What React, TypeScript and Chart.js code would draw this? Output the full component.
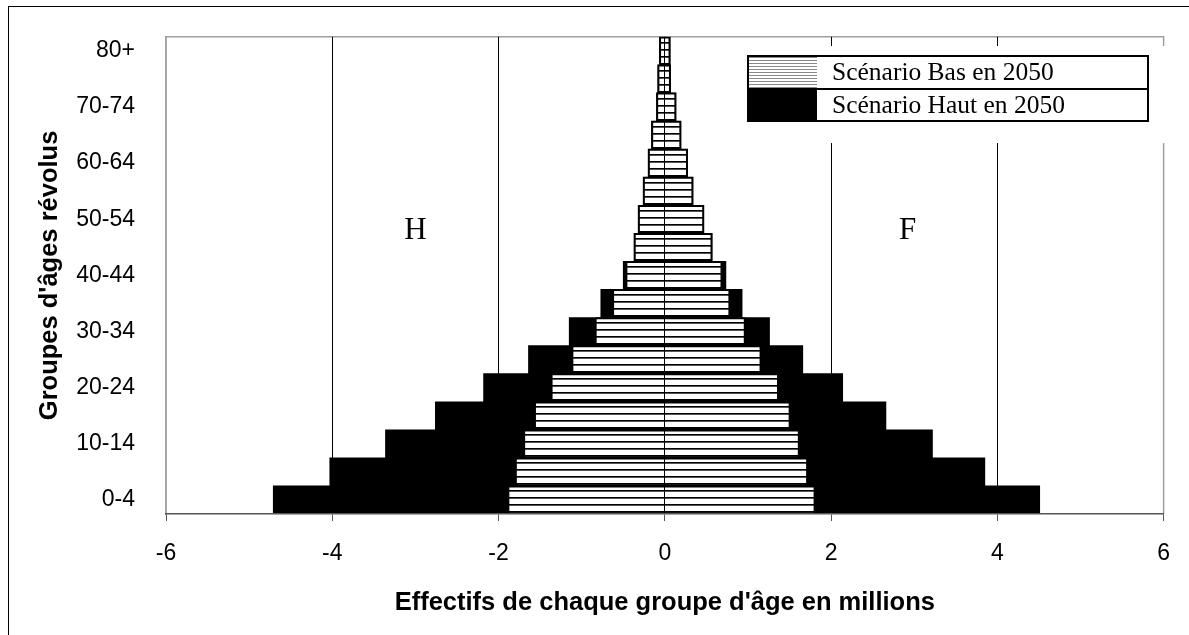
import React, { useEffect, useRef } from "react";
import { Chart, registerables } from "chart.js";

Chart.register(...registerables);

const ageGroups = [
  "0-4", "5-9", "10-14", "15-19", "20-24", "25-29", "30-34", "35-39", "40-44",
  "45-49", "50-54", "55-59", "60-64", "65-69", "70-74", "75-79", "80+",
];
// millions, hommes (negative) et femmes (positive)
const basHommes = [-1.89, -1.8, -1.7, -1.57, -1.37, -1.12, -0.84, -0.63, -0.47, -0.37, -0.32, -0.26, -0.2, -0.16, -0.1, -0.085, -0.065];
const basFemmes = [1.81, 1.72, 1.62, 1.51, 1.37, 1.16, 0.97, 0.785, 0.69, 0.57, 0.47, 0.34, 0.275, 0.195, 0.135, 0.07, 0.065];
const hautHommes = [-4.71, -4.03, -3.36, -2.76, -2.18, -1.64, -1.15, -0.77, -0.5, -0.37, -0.32, -0.26, -0.2, -0.16, -0.1, -0.085, -0.065];
const hautFemmes = [4.51, 3.85, 3.22, 2.66, 2.14, 1.66, 1.26, 0.93, 0.735, 0.57, 0.47, 0.34, 0.275, 0.195, 0.135, 0.07, 0.065];
const seriesLabels = ["Scénario Bas en 2050", "Scénario Haut en 2050"];
const xTicks = [-6, -4, -2, 0, 2, 4, 6];
const sexLabels = ["H", "F"];

function makePattern(w: number, h: number, draw: (c: CanvasRenderingContext2D) => void) {
  const pc = document.createElement("canvas");
  pc.width = w;
  pc.height = h;
  const c = pc.getContext("2d")!;
  draw(c);
  return pc;
}

export default function App() {
  const ref = useRef<HTMLCanvasElement | null>(null);

  useEffect(() => {
    const canvas = ref.current!;
    const ctx = canvas.getContext("2d")!;
    const barPatCanvas = makePattern(8, 7, (c) => {
      c.fillStyle = "#fff";
      c.fillRect(0, 0, 8, 7);
      c.fillStyle = "#000";
      c.fillRect(0, 0, 8, 1);
      c.fillStyle = "#555";
      c.fillRect(0, 1, 8, 1);
    });
    const legPatCanvas = makePattern(4, 3, (c) => {
      c.fillStyle = "#fff";
      c.fillRect(0, 0, 4, 3);
      c.fillStyle = "#888";
      c.fillRect(0, 0, 4, 1);
    });
    const barPattern = ctx.createPattern(barPatCanvas, "repeat")!;
    const legPattern = ctx.createPattern(legPatCanvas, "repeat")!;

    const overlay = {
      id: "overlay",
      beforeDatasetsDraw(chart: any) {
        const { ctx: c, chartArea: a } = chart;
        c.save();
        c.strokeStyle = "#a0a0a0";
        c.lineWidth = 1.5;
        c.beginPath();
        c.moveTo(a.left, a.bottom);
        c.lineTo(a.left, a.top);
        c.lineTo(a.right, a.top);
        c.lineTo(a.right, a.bottom);
        c.stroke();
        c.restore();
      },
      afterDraw(chart: any) {
        const { ctx: c } = chart;
        const xs = chart.scales.x;
        const ys = chart.scales.y;
        c.save();
        // H / F labels
        c.fillStyle = "#000";
        c.font = '31px "Liberation Serif"';
        c.textAlign = "center";
        c.textBaseline = "middle";
        const yHF = ys.getPixelForValue(9.6);
        c.fillText(sexLabels[0], xs.getPixelForValue(-3), yHF);
        c.fillText(sexLabels[1], xs.getPixelForValue(2.92), yHF);

        // legend
        const L = 748, R = 1148, T = 56, M = 89, B = 121, S = 817;
        c.fillStyle = "#fff";
        c.fillRect(738, 46, 430, 97);
        c.fillStyle = legPattern;
        c.fillRect(L, T, S - L, M - T);
        c.fillStyle = "#000";
        c.fillRect(L, M, S - L, B - M);
        c.strokeStyle = "#000";
        c.lineWidth = 2;
        c.strokeRect(L, T, R - L, B - T);
        c.beginPath();
        c.moveTo(L, M);
        c.lineTo(R, M);
        c.stroke();
        c.fillStyle = "#000";
        c.font = '25.5px "Liberation Serif"';
        c.textAlign = "left";
        c.textBaseline = "middle";
        c.fillText(seriesLabels[0], 832, (T + M) / 2 + 1);
        c.fillText(seriesLabels[1], 832, (M + B) / 2 + 1);
        c.restore();
      },
    };

    const chart = new Chart(canvas, {
      type: "bar",
      data: {
        labels: ageGroups,
        datasets: [
          {
            label: seriesLabels[0],
            data: ageGroups.map((_, i) => [basHommes[i], basFemmes[i]]) as any,
            backgroundColor: barPattern as any,
            borderColor: "#000",
            borderWidth: 2,
            borderSkipped: false,
            categoryPercentage: 1,
            barPercentage: 1,
          },
          {
            label: seriesLabels[1],
            data: ageGroups.map((_, i) => [hautHommes[i], hautFemmes[i]]) as any,
            backgroundColor: "#000",
            borderWidth: 0,
            categoryPercentage: 1,
            barPercentage: 1,
          },
        ],
      },
      options: {
        indexAxis: "y",
        responsive: false,
        animation: false,
        events: [],
        layout: { padding: { left: 0, right: 20, top: 24, bottom: 0 } },
        plugins: { legend: { display: false }, tooltip: { enabled: false } },
        datasets: { bar: { grouped: false } } as any,
        scales: {
          x: {
            type: "linear",
            min: -6,
            max: 6,
            afterBuildTicks: (s: any) => {
              s.ticks = xTicks.map((v) => ({ value: v }));
            },
            afterFit: (s: any) => {
              s.height = 121;
            },
            ticks: {
              color: "#000",
              padding: 19,
              font: { family: "Liberation Sans", size: 23 },
            },
            grid: {
              z: 1,
              color: (c: any) => (c.tick && (c.tick.value === -6 || c.tick.value === 6) ? "rgba(0,0,0,0)" : "#000"),
              tickColor: "#555",
              tickLength: 7,
              lineWidth: 1,
            } as any,
            border: { color: "#555", width: 1.5, z: 1 } as any,
            title: {
              display: true,
              text: "Effectifs de chaque groupe d'âge en millions",
              color: "#000",
              font: { family: "Liberation Sans", size: 25.5, weight: "bold" },
              padding: { top: 0, bottom: 17 },
            },
          },
          y: {
            type: "category",
            reverse: true,
            afterFit: (s: any) => {
              s.width = 166;
            },
            ticks: {
              autoSkip: false,
              color: "#000",
              padding: 23,
              font: { family: "Liberation Sans", size: 23 },
              callback: function (this: any, v: any) {
                return v % 2 === 0 ? ageGroups[v] : "";
              },
            },
            grid: { display: false },
            border: { color: "#a0a0a0", width: 1.5 },
            title: {
              display: true,
              text: "Groupes d'âges révolus",
              color: "#000",
              font: { family: "Liberation Sans", size: 25.5, weight: "bold" },
              padding: { top: 35, bottom: 0 },
            },
          },
        },
      },
      plugins: [overlay],
    });
    return () => chart.destroy();
  }, []);

  return (
    <div style={{ position: "absolute", left: 0, top: 0, width: 1189, height: 635, overflow: "hidden", background: "#fff" }}>
      <div style={{ position: "absolute", left: 8, top: 6, width: 2000, height: 2000, border: "1px solid #000" }} />
      <canvas ref={ref} width={1189} height={635} style={{ position: "absolute", left: 0, top: 0 }} />
    </div>
  );
}
